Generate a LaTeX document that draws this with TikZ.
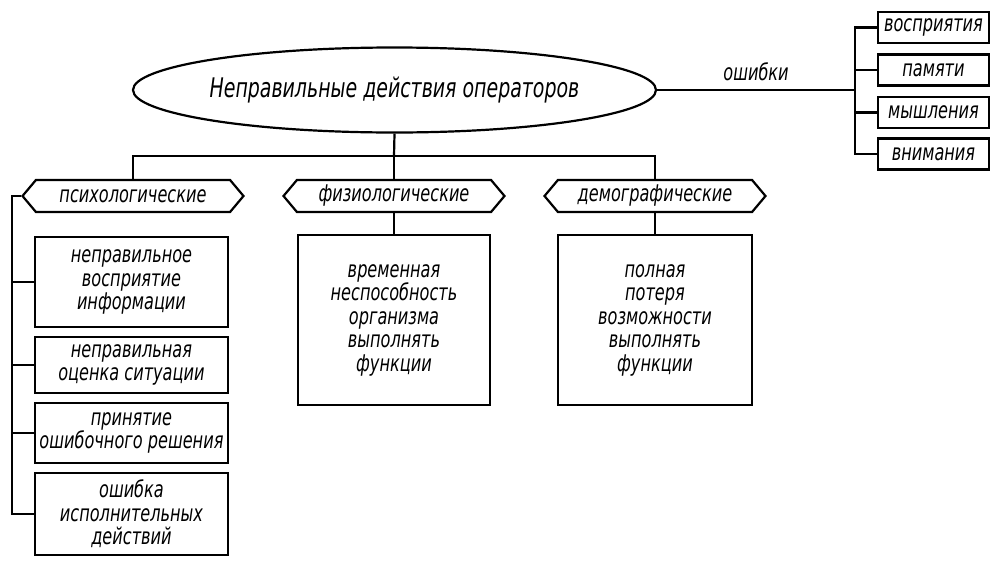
\documentclass[tikz,border=0pt]{standalone}
\usepackage{fontspec}
\setmainfont{DejaVu Sans Condensed Oblique}[FakeStretch=0.78]
\usetikzlibrary{positioning,shapes.geometric,shapes.symbols}

\begin{document}
\begin{tikzpicture}[
        x=1pt, y=-1pt,
        line width=2.2pt,
        font=\fontsize{23}{23.5}\selectfont,
        oval/.style={ellipse,draw,minimum width=455pt,minimum height=85pt,inner sep=0pt,font=\fontsize{27}{28}\selectfont},
        tag/.style={signal,signal to=west and east,signal pointer angle=100,draw,minimum width=221pt,minimum height=32pt,inner sep=1pt},
        box/.style={rectangle,draw,minimum width=193pt,align=center,inner sep=2pt},
        item/.style={rectangle,draw,minimum width=111pt,minimum height=31pt,inner sep=1pt}
    ]
        \useasboundingbox (0,0) rectangle (991,560);

        \node[oval] (main) at (394.5,90) {Неправильные действия операторов};

        \node[tag] (psy) at (133,196) {психологические};
        \node[tag] (fiz) at (394,196) {физиологические};
        \node[tag] (dem) at (655,196) {демографические};

        \node[box, minimum height=90pt] (b1) at (131.5,282) {неправильное\\восприятие\\информации};
        \node[box, minimum height=56pt] (b2) at (131.5,365) {неправильная\\оценка ситуации};
        \node[box, minimum height=60pt] (b3) at (131.5,433) {принятие\\ошибочного решения};
        \node[box, minimum height=82pt] (b4) at (131.5,514) {ошибка\\исполнительных\\действий};

        \node[box, minimum width=192pt, minimum height=170pt] (fbox) at (394,320) {временная\\неспособность\\организма\\выполнять\\функции};
        \node[box, minimum width=194pt, minimum height=170pt] (dbox) at (655,320) {полная\\потеря\\возможности\\выполнять\\функции};

        \node[item] (r1) at (933.5,27.5) {восприятия};
        \node[item] (r2) at (933.5,70) {памяти};
        \node[item] (r3) at (933.5,112.5) {мышления};
        \node[item] (r4) at (933.5,154) {внимания};

        \coordinate (bus) at (394,156);
        \coordinate (lbus) at (12,196);
        \coordinate (rbus) at (855,90);

        \draw (main.south) -- (bus);
        \draw (psy.north) |- (bus) -| (dem.north);
        \draw (bus) -- (fiz.north);
        \draw (fiz.south) -- (fbox.north);
        \draw (dem.south) -- (dbox.north);

        \draw (psy.west) -- (lbus) |- (b4.west);
        \foreach \b in {b1,b2,b3}
            \draw (\b.west) -- (\b.west -| lbus);

        \draw (main.east) -- node[above=5pt] {ошибки} (rbus);
        \draw (r1.west) -| (rbus) |- (r4.west);
        \foreach \r in {r2,r3}
            \draw (\r.west) -- (\r.west -| rbus);
    \end{tikzpicture}
\end{document}
